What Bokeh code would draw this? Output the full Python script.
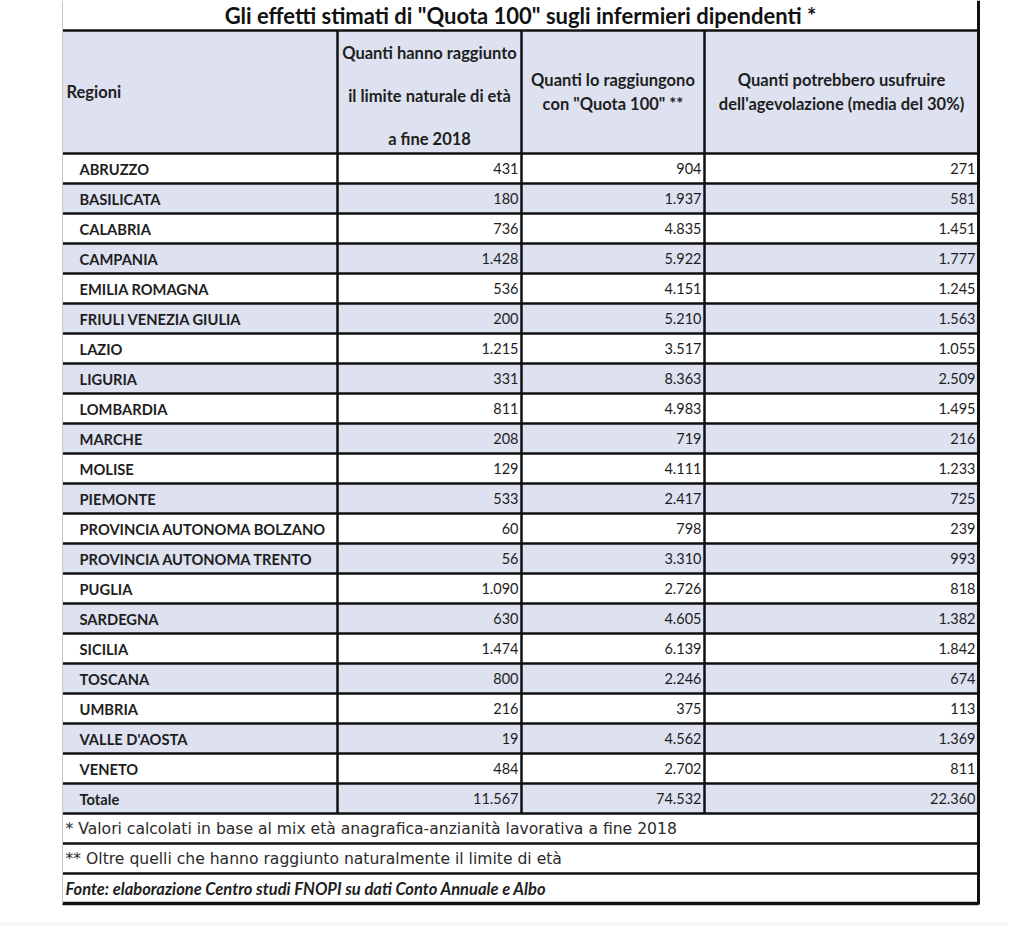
from bokeh.plotting import figure
from bokeh.models import Range1d, ColumnDataSource
from bokeh.core.properties import value
from bokeh.embed import file_html
from bokeh.resources import INLINE

# ---------------- data ----------------
title = 'Gli effetti stimati di "Quota 100" sugli infermieri dipendenti *'
regions = ["ABRUZZO", "BASILICATA", "CALABRIA", "CAMPANIA", "EMILIA ROMAGNA",
           "FRIULI VENEZIA GIULIA", "LAZIO", "LIGURIA", "LOMBARDIA", "MARCHE",
           "MOLISE", "PIEMONTE", "PROVINCIA AUTONOMA BOLZANO",
           "PROVINCIA AUTONOMA TRENTO", "PUGLIA", "SARDEGNA", "SICILIA",
           "TOSCANA", "UMBRIA", "VALLE D'AOSTA", "VENETO"]
limite_naturale = [431, 180, 736, 1428, 536, 200, 1215, 331, 811, 208, 129, 533,
                   60, 56, 1090, 630, 1474, 800, 216, 19, 484]
quota100 = [904, 1937, 4835, 5922, 4151, 5210, 3517, 8363, 4983, 719, 4111, 2417,
            798, 3310, 2726, 4605, 6139, 2246, 375, 4562, 2702]
agevolazione = [271, 581, 1451, 1777, 1245, 1563, 1055, 2509, 1495, 216, 1233, 725,
                239, 993, 818, 1382, 1842, 674, 113, 1369, 811]
total_label = "Totale"
totals = [11567, 74532, 22360]
header_regioni = "Regioni"
header_col1 = ["Quanti hanno raggiunto", "il limite naturale di età", "a fine 2018"]
header_col2 = ["Quanti lo raggiungono", 'con "Quota 100" **']
header_col3 = ["Quanti potrebbero usufruire", "dell'agevolazione (media del 30%)"]
footnotes = ["* Valori calcolati in base al mix età anagrafica-anzianità lavorativa a fine 2018",
             "** Oltre quelli che hanno raggiunto naturalmente il limite di età"]
source_note = "Fonte: elaborazione Centro studi FNOPI su dati Conto Annuale e Albo"

# ---------------- layout constants ----------------
COLS = [62, 337, 521, 704, 978]
TITLE_TOP, HEADER_TOP, BODY_TOP, ROW_H = 0, 30, 153, 30
SHADE = "#dde1f0"
INK = "#1e1e1e"
LINE = "#111111"
FONT = value("Lato")


def fmt(n):
    return f"{n:,}".replace(",", ".")


W, H = 1008, 926
p = figure(width=W, height=H, x_range=Range1d(0, W), y_range=Range1d(H, 0),
           x_axis_type=None, y_axis_type=None, toolbar_location=None,
           output_backend="svg", min_border=0, outline_line_color=None,
           background_fill_color="white", border_fill_color="white")
p.grid.visible = False

n_body = len(regions) + 1  # plus totals row
rows_labels = regions + [total_label]
rows_c1 = limite_naturale + [totals[0]]
rows_c2 = quota100 + [totals[1]]
rows_c3 = agevolazione + [totals[2]]

body_tops = [BODY_TOP + i * ROW_H for i in range(n_body)]
body_bots = [t + ROW_H for t in body_tops]
body_mid = [t + ROW_H / 2 for t in body_tops]
body_end = body_bots[-1]
foot_tops = [body_end + i * ROW_H for i in range(3)]
foot_end = foot_tops[-1] + ROW_H

# faint page strip at bottom
p.quad(left=[0], right=[W], top=[922], bottom=[H], fill_color="#f6f6f6", line_color=None)

# header shading
p.quad(left=[COLS[0]], right=[COLS[-1]], top=[HEADER_TOP], bottom=[BODY_TOP],
       fill_color=SHADE, line_color=None)
# alternating row shading
shade_idx = [i for i in range(n_body) if i % 2 == 1]
p.quad(left=[COLS[0]] * len(shade_idx), right=[COLS[-1]] * len(shade_idx),
       top=[body_tops[i] for i in shade_idx], bottom=[body_bots[i] for i in shade_idx],
       fill_color=SHADE, line_color=None)

# horizontal rules
h_ys = [HEADER_TOP, BODY_TOP] + body_bots + [t + ROW_H for t in foot_tops[:-1]]
p.segment(x0=[COLS[0]] * len(h_ys), x1=[COLS[-1]] * len(h_ys), y0=h_ys, y1=h_ys,
          line_color=LINE, line_width=2.5)
p.segment(x0=[COLS[0]], x1=[COLS[-1]], y0=[foot_end], y1=[foot_end],
          line_color=LINE, line_width=3.5)
# vertical rules
p.segment(x0=COLS[1:4], x1=COLS[1:4], y0=[HEADER_TOP] * 3, y1=[body_end] * 3,
          line_color=LINE, line_width=2.5)
p.segment(x0=[COLS[-1]], x1=[COLS[-1]], y0=[TITLE_TOP], y1=[foot_end + 1],
          line_color=LINE, line_width=3)
p.segment(x0=[COLS[0]], x1=[COLS[0]], y0=[TITLE_TOP], y1=[foot_end],
          line_color="#c8c8c8", line_width=1)

# title
p.text(x=[(COLS[0] + COLS[-1]) / 2], y=[15], text=[title], text_align="center",
       text_baseline="middle", text_font=FONT, text_font_style="bold",
       text_font_size="22px", text_color="#111111")

# headers
hkw = dict(text_baseline="middle", text_font=FONT, text_font_style="bold",
           text_font_size="16.5px", text_color=INK)
p.text(x=[COLS[0] + 4], y=[91], text=[header_regioni], text_align="left", **hkw)
c1x = (COLS[1] + COLS[2]) / 2
p.text(x=[c1x] * 3, y=[52, 95, 138], text=header_col1, text_align="center", **hkw)
c2x = (COLS[2] + COLS[3]) / 2
p.text(x=[c2x] * 2, y=[79, 103], text=header_col2, text_align="center", **hkw)
c3x = (COLS[3] + COLS[4]) / 2
p.text(x=[c3x] * 2, y=[79, 103], text=header_col3, text_align="center", **hkw)

# body
src = ColumnDataSource(dict(
    y=body_mid, label=rows_labels,
    c1=[fmt(v) for v in rows_c1], c2=[fmt(v) for v in rows_c2], c3=[fmt(v) for v in rows_c3]))
p.text(x=COLS[0] + 17, y="y", text="label", source=src, text_align="left",
       text_baseline="middle", text_font=FONT, text_font_style="bold",
       text_font_size="14.7px", text_color=INK)
for col, xr in (("c1", COLS[2] - 3), ("c2", COLS[3] - 3), ("c3", COLS[4] - 3)):
    p.text(x=xr, y="y", text=col, source=src, text_align="right",
           text_baseline="middle", text_font=FONT, text_font_size="14.5px",
           text_color=INK)

# footnotes
foot_mid = [t + ROW_H / 2 for t in foot_tops]
p.text(x=[COLS[0] + 3] * 2, y=foot_mid[:2], text=footnotes, text_align="left",
       text_baseline="middle", text_font=value("DejaVu Sans"), text_font_size="15.6px",
       text_color="#2a2a2a")
p.text(x=[COLS[0] + 3], y=[foot_mid[2]], text=[source_note], text_align="left",
       text_baseline="middle", text_font=FONT, text_font_style="bold italic",
       text_font_size="16.5px", text_color=INK)

open("out.html", "w").write(file_html(p, INLINE))
